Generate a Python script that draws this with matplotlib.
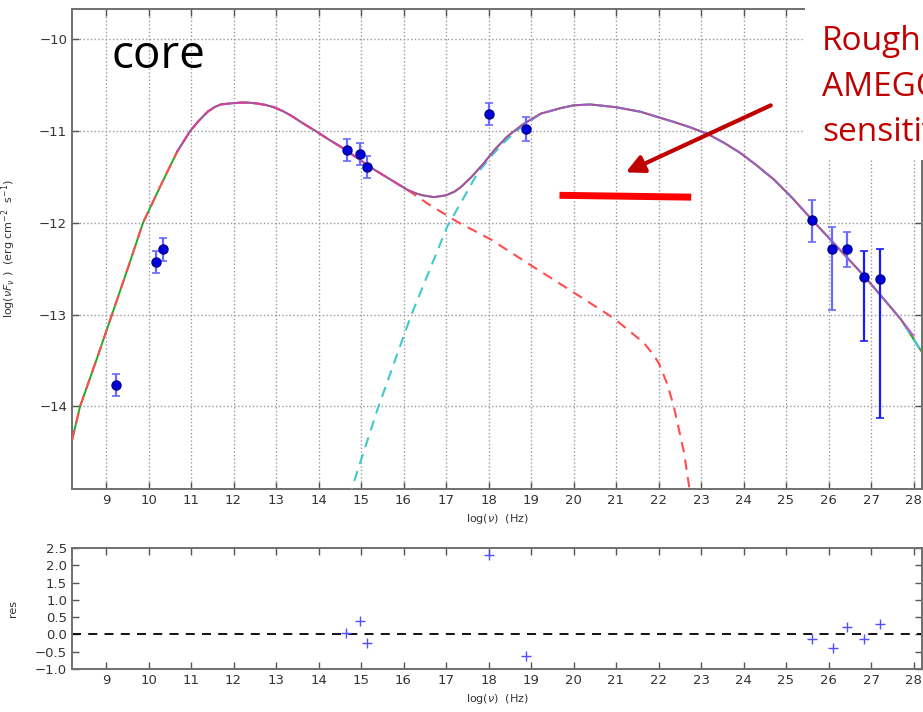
import numpy as np
import matplotlib.pyplot as plt
from matplotlib.patches import Rectangle

# ---- data ----
# rising synchrotron branch, shared by the total and the synchrotron curve
low_x = [8.2, 8.39, 8.77, 9.14, 9.51, 9.87, 10.3, 10.68, 10.98, 11.18, 11.39, 11.55,
         11.70, 11.9, 12.17, 12.35, 12.56, 12.75, 12.95, 13.15, 13.35, 13.65, 13.97,
         14.2, 14.52, 14.9, 15.31, 15.7, 16.09]
low_y = [-14.37, -14.0, -13.5, -13.0, -12.5, -12.0, -11.58, -11.22, -11.0, -10.89,
         -10.79, -10.74, -10.71, -10.70, -10.69, -10.69, -10.70, -10.715, -10.74,
         -10.78, -10.83, -10.92, -11.01, -11.08, -11.17, -11.29, -11.42, -11.53, -11.64]

# total model beyond the synchrotron branch
high_x = [16.3, 16.45, 16.72, 17.0, 17.2, 17.35, 17.6, 17.89, 18.15, 18.44, 18.8,
          19.23, 19.7, 20.0, 20.40, 21.0, 21.58, 22.0, 22.36, 22.75, 23.15, 23.55,
          23.93, 24.3, 24.72, 25.15, 25.62, 26.2, 26.84, 27.3, 27.70, 28.2]
high_y = [-11.68, -11.70, -11.72, -11.70, -11.66, -11.61, -11.50, -11.35, -11.20,
          -11.06, -10.93, -10.81, -10.75, -10.72, -10.71, -10.74, -10.79, -10.85,
          -10.90, -10.96, -11.03, -11.13, -11.24, -11.37, -11.53, -11.73, -11.97,
          -12.26, -12.58, -12.83, -13.05, -13.41]

# synchrotron tail (red dashed)
syn_tail_x = [16.6, 17.27, 18.05, 18.99, 20.01, 20.95, 21.66, 21.85, 22.01, 22.2,
              22.36, 22.6, 22.72, 22.8]
syn_tail_y = [-11.80, -11.99, -12.18, -12.46, -12.76, -13.04, -13.31, -13.42, -13.53,
              -13.75, -14.0, -14.5, -14.87, -15.2]

# inverse Compton rise (cyan dashed), then it follows the total
ic_x = [14.75, 14.80, 15.39, 16.17, 17.03, 17.4, 17.74, 18.05, 18.35, 18.68]
ic_y = [-15.0, -14.87, -14.03, -13.02, -12.04, -11.74, -11.46, -11.28, -11.13, -10.99]

# observed points
obs_x = [9.24, 10.17, 10.34, 14.66, 14.97, 15.13, 18.01, 18.88,
         25.62, 26.09, 26.44, 26.84, 27.21]
obs_y = [-13.77, -12.43, -12.29, -11.21, -11.25, -11.39, -10.81, -10.98,
         -11.97, -12.28, -12.28, -12.59, -12.61]
err_lo = [0.12, 0.12, 0.13, 0.12, 0.12, 0.12, 0.12, 0.13,
          0.24, 0.67, 0.20, 0.70, 1.52]
err_hi = [0.12, 0.12, 0.13, 0.12, 0.12, 0.12, 0.12, 0.13,
          0.22, 0.24, 0.18, 0.28, 0.32]

# residuals
res_x = [14.64, 14.97, 15.13, 18.01, 18.88, 25.60, 26.11, 26.44, 26.84, 27.21]
res_y = [0.04, 0.38, -0.26, 2.30, -0.61, -0.13, -0.39, 0.21, -0.14, 0.31]

# AMEGO sensitivity bar and arrow
amego_x = [19.67, 22.77]
amego_y = [-11.70, -11.72]
arrow_tail = (24.64, -10.72)
arrow_head = (21.23, -11.45)

xticks = list(range(9, 29))
yticks = [-10, -11, -12, -13, -14]
res_ticks = [-1.0, -0.5, 0.0, 0.5, 1.0, 1.5, 2.0, 2.5]

tot_x = low_x + high_x
tot_y = low_y + high_y
syn_x = low_x + syn_tail_x
syn_y = low_y + syn_tail_y
k = high_x.index(19.23)
ic_x = ic_x + high_x[k:]
ic_y = ic_y + high_y[k:]

W, H = 923, 712
fig = plt.figure(figsize=(W / 100, H / 100), dpi=100)
fig.patch.set_facecolor('white')

ax = fig.add_axes([72 / W, 1 - 489 / H, 850 / W, 480 / H])
ax2 = fig.add_axes([72 / W, 1 - 669 / H, 850 / W, 121 / H])

ax.plot(tot_x, tot_y, color='#22aa22', lw=1.4, zorder=2)
ax.plot(syn_x, syn_y, color='#ff4d4d', lw=1.5, ls=(0, (5, 3.5)), zorder=3)
ax.plot(ic_x, ic_y, color='#40c8d0', lw=1.5, ls=(0, (5, 3.5)), zorder=3)
n0 = tot_x.index(10.68)
ax.plot(tot_x[n0:-1] + [28.0], tot_y[n0:-1] + [-13.23], color='#c83cc0',
        lw=1.5, alpha=0.8, zorder=4)

# fainter and stronger error bars
faint = [0, 1, 2, 3, 4, 5, 6, 7, 8, 9, 10]
strong = [11, 12]
for idx, ec in [(faint, '#6a6aff'), (strong, '#1a1aff')]:
    ax.errorbar([obs_x[i] for i in idx], [obs_y[i] for i in idx],
                yerr=[[err_lo[i] for i in idx], [err_hi[i] for i in idx]],
                fmt='o', ms=6.5, mfc='#0000dd', mec='#00008b', ecolor=ec,
                elinewidth=1.6, capsize=3, capthick=1.2, zorder=5)

ax.plot(amego_x, amego_y, color='#ff0000', lw=5, solid_capstyle='butt', zorder=6)
ax.annotate('', xy=arrow_head, xytext=arrow_tail,
            arrowprops=dict(arrowstyle='-|>', color='#c00000', lw=3,
                            mutation_scale=27, shrinkA=0, shrinkB=0), zorder=7)

ax.set_xlim(8.2, 28.2)
ax.set_ylim(-14.9, -9.67)
ax.set_xticks(xticks)
ax.set_yticks(yticks)
ax.grid(True, ls=':', color='#999999', lw=1)
ax.set_xlabel(r'log($\nu$)  (Hz)', fontsize=8, color='#333333')
ax.set_ylabel(r'log($\nu F_\nu$ )  (erg cm$^{-2}$  s$^{-1}$)', fontsize=8,
              color='#333333')
ax.yaxis.set_label_coords(-0.063, 0.5)

ax2.axhline(0, color='black', ls='--', lw=1.3, dashes=(5, 4))
ax2.plot(res_x, res_y, '+', color='#5050ff', ms=7, mew=1.0)
ax2.set_xlim(8.2, 28.2)
ax2.set_ylim(-1.0, 2.5)
ax2.set_xticks(xticks)
ax2.set_yticks(res_ticks)
ax2.set_xlabel(r'log($\nu$)  (Hz)', fontsize=8, color='#333333')
ax2.set_ylabel('res', fontsize=8, color='#333333')
ax2.yaxis.set_label_coords(-0.063, 0.5)

for a in (ax, ax2):
    a.tick_params(direction='in', top=True, right=True, length=5, width=1,
                  colors='#555555', labelcolor='#333333', labelsize=9.5)
    for s in a.spines.values():
        s.set_color('#707070')
        s.set_linewidth(1.4)

# white text box over the upper right corner (the text runs past the edge)
fig.patches.append(Rectangle((805 / W, 1 - 160 / H), 120 / W, 160 / H,
                             transform=fig.transFigure, facecolor='white',
                             edgecolor='none', zorder=10))
fig.text(822 / W, 1 - 25 / H, 'Roughly\nAMEGO\nsensitivity', color='#c00000',
         fontsize=24, family='Open Sans', va='top', ha='left', linespacing=1.5,
         zorder=11)
fig.text(111 / W, 1 - 56 / H, 'core', color='black', fontsize=33,
         family='Open Sans', va='center', ha='left', zorder=11)

fig.savefig('out.png', dpi=100)
